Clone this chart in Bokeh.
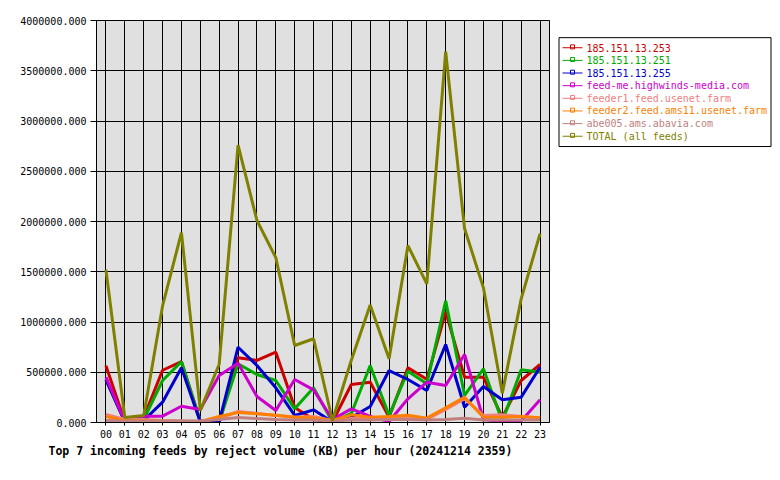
from bokeh.plotting import figure
from bokeh.layouts import row
from bokeh.models import Range1d, FixedTicker, PrintfTickFormatter, Title, ColumnDataSource
from bokeh.core.properties import value
from bokeh.embed import file_html
from bokeh.resources import INLINE

hours = list(range(24))
hour_labels = ["%02d" % h for h in hours]

series_names = [
    "185.151.13.253",
    "185.151.13.251",
    "185.151.13.255",
    "feed-me.highwinds-media.com",
    "feeder1.feed.usenet.farm",
    "feeder2.feed.ams11.usenet.farm",
    "abe005.ams.abavia.com",
    "TOTAL (all feeds)",
]
series_colors = ["#cc0000", "#00aa00", "#0000cc", "#cc00cc",
                 "#f08080", "#ff8000", "#c08080", "#808000"]

s_253 = [565000, 10000, 50000, 520000, 606000, 15000, 5000, 644000, 617000, 700000, 150000, 30000,
         5000, 378000, 401000, 55000, 544000, 430000, 1100000, 451000, 450000, 50000, 418000, 577000]
s_251 = [430000, 10000, 30000, 418000, 606000, 10000, 5000, 584000, 478000, 418000, 136000, 345000,
         5000, 90000, 567000, 70000, 511000, 385000, 1210000, 269000, 534000, 10000, 524000, 501000]
s_255 = [425000, 5000, 20000, 202000, 544000, 5000, 5000, 749000, 567000, 345000, 70000, 126000,
         5000, 50000, 159000, 517000, 428000, 318000, 776000, 152000, 358000, 226000, 252000, 550000]
s_feedme = [451000, 10000, 63000, 63000, 162000, 129000, 468000, 590000, 259000, 119000, 428000, 325000,
            30000, 136000, 60000, 10000, 236000, 401000, 368000, 677000, 30000, 10000, 15000, 226000]
s_feeder1 = [80000, 30000, 30000, 20000, 15000, 10000, 40000, 110000, 90000, 70000, 55000, 60000,
             20000, 40000, 45000, 50000, 60000, 30000, 130000, 236000, 70000, 76000, 60000, 45000]
s_feeder2 = [60000, 20000, 20000, 15000, 10000, 10000, 60000, 100000, 86000, 72000, 53000, 45000,
             20000, 76000, 53000, 60000, 73000, 43000, 146000, 252000, 53000, 53000, 60000, 47000]
s_abe005 = [20000, 15000, 15000, 15000, 15000, 15000, 30000, 50000, 40000, 30000, 25000, 25000,
            15000, 25000, 25000, 30000, 30000, 25000, 30000, 43000, 25000, 25000, 25000, 25000]
s_total = [1520000, 50000, 70000, 1160000, 1890000, 120000, 580000, 2760000, 2010000, 1640000, 766000, 833000,
           20000, 620000, 1170000, 634000, 1760000, 1380000, 3690000, 1930000, 1340000, 292000, 1230000, 1880000]

series_values = [s_253, s_251, s_255, s_feedme, s_feeder1, s_feeder2, s_abe005, s_total]

y_ticks = [0, 500000, 1000000, 1500000, 2000000, 2500000, 3000000, 3500000, 4000000]
title_text = "Top 7 incoming feeds by reject volume (KB) per hour (20241214 2359)"

FONT = "DejaVu Sans Mono"

p = figure(width=555, height=480, output_backend="svg", toolbar_location=None,
           x_range=Range1d(-0.5, 23.5), y_range=Range1d(0, 4000000),
           min_border_left=96, min_border_right=6, min_border_top=20, min_border_bottom=58)
p.background_fill_color = "white"
p.border_fill_color = "white"
p.outline_line_color = "black"
p.outline_line_width = 1
p.background_fill_color = "#e0e0e0"

for vals, col in zip(series_values, series_colors):
    p.line(hours, vals, line_color=col, line_width=3)

p.xaxis.ticker = FixedTicker(ticks=hours)
p.xaxis.major_label_overrides = {h: lbl for h, lbl in zip(hours, hour_labels)}
p.yaxis.ticker = FixedTicker(ticks=y_ticks)
p.yaxis.formatter = PrintfTickFormatter(format="%.3f")
for ax in (p.xaxis, p.yaxis):
    ax.axis_line_color = "black"
    ax.major_tick_line_color = "black"
    ax.minor_tick_line_color = None
    ax.major_tick_in = 0
    ax.major_label_text_font = FONT
    ax.major_label_text_font_size = "10px"
    ax.major_label_text_color = "black"
p.yaxis.major_tick_out = 6
p.yaxis.major_label_standoff = 4
p.xaxis.major_tick_out = 3
p.xaxis.major_label_standoff = 4

p.xgrid.ticker = FixedTicker(ticks=hours)
p.ygrid.ticker = FixedTicker(ticks=y_ticks)
for g in (p.xgrid, p.ygrid):
    g.grid_line_color = "black"
    g.grid_line_width = 1
    g.grid_line_alpha = 1.0

t = Title(text=title_text, align="left", offset=-48, text_font=FONT,
          text_font_size="11.5px", text_font_style="bold", text_color="black", standoff=2)
p.add_layout(t, "below")

# legend panel
lg = figure(width=225, height=480, output_backend="svg", toolbar_location=None,
            x_range=Range1d(0, 225), y_range=Range1d(480, 0),
            min_border_left=0, min_border_right=0, min_border_top=0, min_border_bottom=0)
lg.axis.visible = False
lg.grid.visible = False
lg.outline_line_color = None
lg.background_fill_color = "white"
lg.border_fill_color = "white"

lg.quad(left=[3.5], right=[215.5], top=[20.5], bottom=[150.5],
        fill_color="white", line_color="black", line_width=1)

row_y = [32.5 + 15.1 * i for i in range(len(series_names))]
src = ColumnDataSource(dict(
    x0=[7] * len(series_names), x1=[27] * len(series_names),
    xm=[17] * len(series_names), y=row_y, ym=[yy - 1 for yy in row_y],
    xt=[31] * len(series_names),
    name=series_names, color=series_colors))
lg.segment(x0="x0", y0="y", x1="x1", y1="y", line_color="color", line_width=1, source=src)
lg.scatter(x="xm", y="ym", marker="square", size=4, line_color="color", fill_alpha=0,
           line_width=1, source=src)
lg.text(x="xt", y="y", text="name", text_color="color", text_font=value(FONT),
        text_font_size="10px", text_baseline="middle", text_align="left", source=src)

layout = row(p, lg, spacing=0)
open("out.html", "w").write(file_html(layout, INLINE))
